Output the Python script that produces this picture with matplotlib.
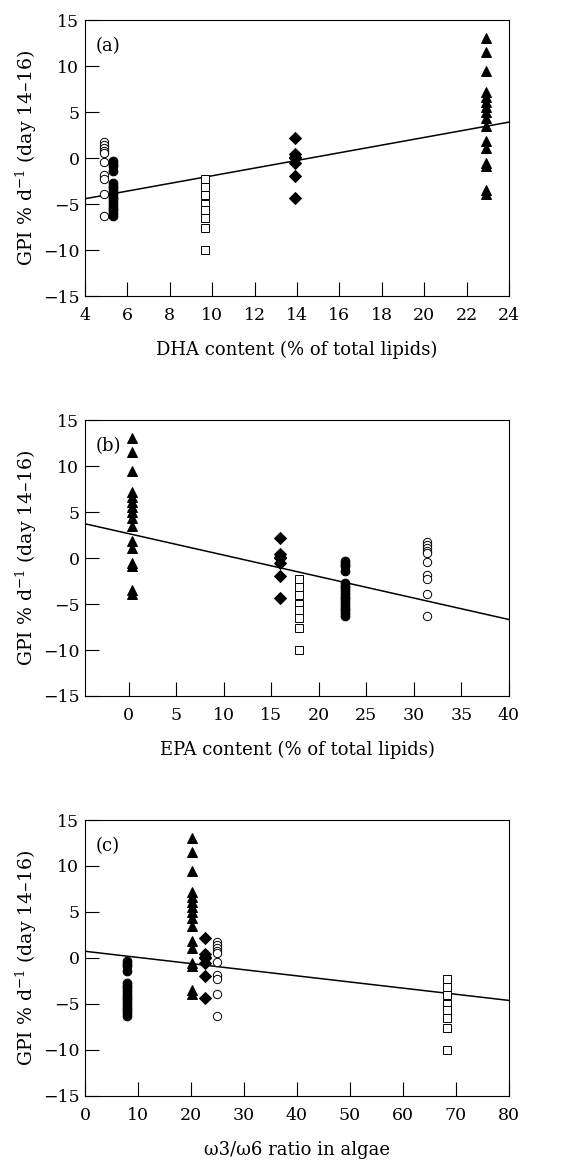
import matplotlib
matplotlib.use("Agg")
import matplotlib.pyplot as plt

plt.rcParams["font.family"] = ["DejaVu Serif"]
plt.rcParams["mathtext.fontset"] = "dejavuserif"

# GPI values (% d-1, day 14-16) for each diet group
gpi_open_circle = [1.7, 1.4, 1.1, 0.8, 0.5, -0.4, -1.8, -2.3, -3.9, -6.3]
gpi_filled_circle = [-0.3, -0.6, -0.9, -1.4, -2.7, -3.0, -3.3, -3.6, -3.9,
                     -4.2, -4.5, -4.8, -5.1, -5.4, -5.7, -6.0, -6.3]
gpi_square = [-2.3, -3.1, -4.0, -5.0, -5.7, -6.5, -7.6, -10.0]
gpi_diamond = [2.2, 0.4, 0.1, 0.0, -0.5, -2.0, -4.3]
gpi_triangle = [13.0, 11.5, 9.5, 7.2, 6.6, 6.1, 5.5, 5.0, 4.3, 3.5,
                1.9, 1.1, -0.5, -0.9, -3.5, -3.9]

# x position of each group in each panel
dha = {"oc": 4.88, "fc": 5.34, "sq": 9.66, "di": 13.89, "tr": 22.9}
epa = {"oc": 31.4, "fc": 22.8, "sq": 17.96, "di": 15.96, "tr": 0.35}
ratio = {"oc": 25.0, "fc": 7.9, "sq": 68.3, "di": 22.7, "tr": 20.1}

# regression lines: intercept, slope
fit_a = (-6.09, 0.4165)
fit_b = (2.65, -0.2334)
fit_c = (0.73, -0.0668)

# values, marker, face colour, marker size
groups = {
    "oc": (gpi_open_circle, "o", "white", 6.0),
    "fc": (gpi_filled_circle, "o", "black", 6.3),
    "sq": (gpi_square, "s", "white", 5.2),
    "di": (gpi_diamond, "D", "black", 5.8),
    "tr": (gpi_triangle, "^", "black", 7.0),
}

fig = plt.figure(figsize=(5.68, 11.6), dpi=100)
left, width, height = 0.1496, 0.7465, 0.2379
panels = [
    (0.7448, dha, fit_a, (4, 24), range(4, 25, 2), "DHA content (% of total lipids)", "(a)"),
    (0.4000, epa, fit_b, (-4.6, 40), range(0, 41, 5), "EPA content (% of total lipids)", "(b)"),
    (0.0552, ratio, fit_c, (0, 80), range(0, 81, 10), "ω3/ω6 ratio in algae", "(c)"),
]

for bottom, xpos, fit, xlim, xticks, xlabel, tag in panels:
    ax = fig.add_axes([left, bottom, width, height])
    for key, (vals, mk, fc, size) in groups.items():
        ax.plot([xpos[key]] * len(vals), vals, linestyle="none", marker=mk,
                markersize=size, markerfacecolor=fc, markeredgecolor="black",
                markeredgewidth=0.7, zorder=3)
    b0, b1 = fit
    ax.plot(xlim, [b0 + b1 * xlim[0], b0 + b1 * xlim[1]], color="black",
            linewidth=1.1, zorder=2)
    ax.set_xlim(*xlim)
    ax.set_ylim(-15, 15)
    ax.set_xticks(list(xticks))
    ax.set_yticks([-15, -10, -5, 0, 5, 10, 15])
    ax.tick_params(direction="in", length=10, width=0.8, labelsize=12.5)
    ax.tick_params(axis="x", pad=8)
    ax.tick_params(axis="y", pad=4)
    for sp in ax.spines.values():
        sp.set_linewidth(0.8)
    ax.set_xlabel(xlabel, fontsize=13, labelpad=12)
    ax.set_ylabel(r"GPI % d$^{-1}$ (day 14–16)", fontsize=13.6, labelpad=3)
    ax.text(0.024, 0.906, tag, transform=ax.transAxes, fontsize=13,
            va="center", ha="left")

fig.savefig("out.png", dpi=100)
